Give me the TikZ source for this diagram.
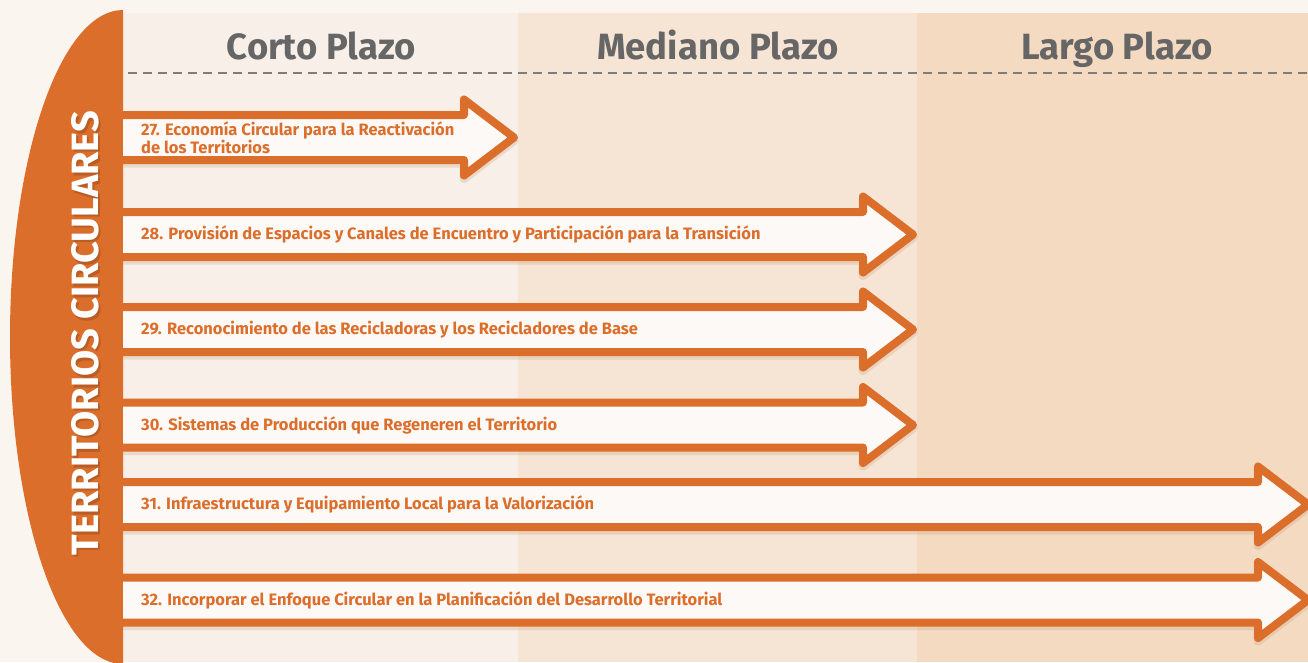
\documentclass[tikz,border=0pt]{standalone}
\usepackage{fontspec}
\setmainfont{Fira Sans}
\usetikzlibrary{positioning}
\definecolor{naranjo}{HTML}{DC6E2B}
\definecolor{fondo}{HTML}{FAF5EF}
\definecolor{corto}{HTML}{F8EFE8}
\definecolor{mediano}{HTML}{F6E4D5}
\definecolor{largo}{HTML}{F4DAC1}
\definecolor{relleno}{HTML}{FDF9F6}
\definecolor{gris}{HTML}{666666}
\definecolor{sombra}{HTML}{C49A72}
% arrow: name, centre y, tip x, label
\newcommand{\flecha}[4]{%
\draw [sombrita,yshift=-3pt] (123,#2-22.5) -- (#3-50,#2-22.5) -- (#3-50,#2-38) -- (#3,#2) -- (#3-50,#2+38) -- (#3-50,#2+22.5) -- (123,#2+22.5);
\draw [flechita] (123,#2-22.5) -- (#3-50,#2-22.5) -- (#3-50,#2-38) -- (#3,#2) -- (#3-50,#2+38) -- (#3-50,#2+22.5) -- (123,#2+22.5);
\node [etiqueta] (#1) at (141,#2) {#4};
}

\begin{document}
\begin{tikzpicture}[x=1pt,y=-1pt,
  flechita/.style={draw=naranjo,fill=relleno,line width=8pt,line join=round},
  sombrita/.style={draw=sombra,line width=9pt,line join=round,opacity=0.25},
  etiqueta/.style={anchor=west,inner sep=0pt,align=left,text=naranjo,font=\bfseries\fontsize{16.5}{14.5}\selectfont},
  plazo/.style={anchor=base,inner sep=0pt,text=gris,font=\bfseries\fontsize{36.5}{40}\selectfont}]
\useasboundingbox (0,0) rectangle (1308,662);
% background and columns
\fill [fondo] (0,0) rectangle (1308,662);
\fill [corto] (123,13) rectangle (518,662);
\fill [mediano] (518,13) rectangle (917,662);
\fill [largo] (917,13) rectangle (1308,662);
% half ellipse on the left
\begin{scope}
\clip (0,0) rectangle (123,662);
\fill [naranjo] (123,337) ellipse [x radius=113, y radius=327];
\end{scope}
\node [rotate=90,text=naranjo!70!black,opacity=0.5,font=\bfseries\fontsize{38}{40}\selectfont] (titulosombra) at (87.5,335.5) {TERRITORIOS CIRCULARES};
\node [rotate=90,text=white,font=\bfseries\fontsize{38}{40}\selectfont] (titulo) at (85,333) {TERRITORIOS CIRCULARES};
% headings
\node [plazo] (corto) at (321.5,59) {Corto Plazo};
\node [plazo] (mediano) at (718,59) {Mediano Plazo};
\node [plazo] (largo) at (1117,59) {Largo Plazo};
\draw [gris!85,line width=1.3pt,dash pattern=on 9pt off 6pt] (128,73) -- (1308,73);
% arrows
\flecha{m27}{137.5}{514}{27. Economía Circular para la Reactivación\\de los Territorios}
\flecha{m28}{234.5}{913}{28. Provisión de Espacios y Canales de Encuentro y Participación para la Transición}
\flecha{m29}{329.5}{913}{29. Reconocimiento de las Recicladoras y los Recicladores de Base}
\flecha{m30}{425}{913}{30. Sistemas de Producción que Regeneren el Territorio}
\flecha{m31}{504.5}{1308}{31. Infraestructura y Equipamiento Local para la Valorización}
\flecha{m32}{600}{1308}{32. Incorporar el Enfoque Circular en la Planificación del Desarrollo Territorial}
\end{tikzpicture}
\end{document}
